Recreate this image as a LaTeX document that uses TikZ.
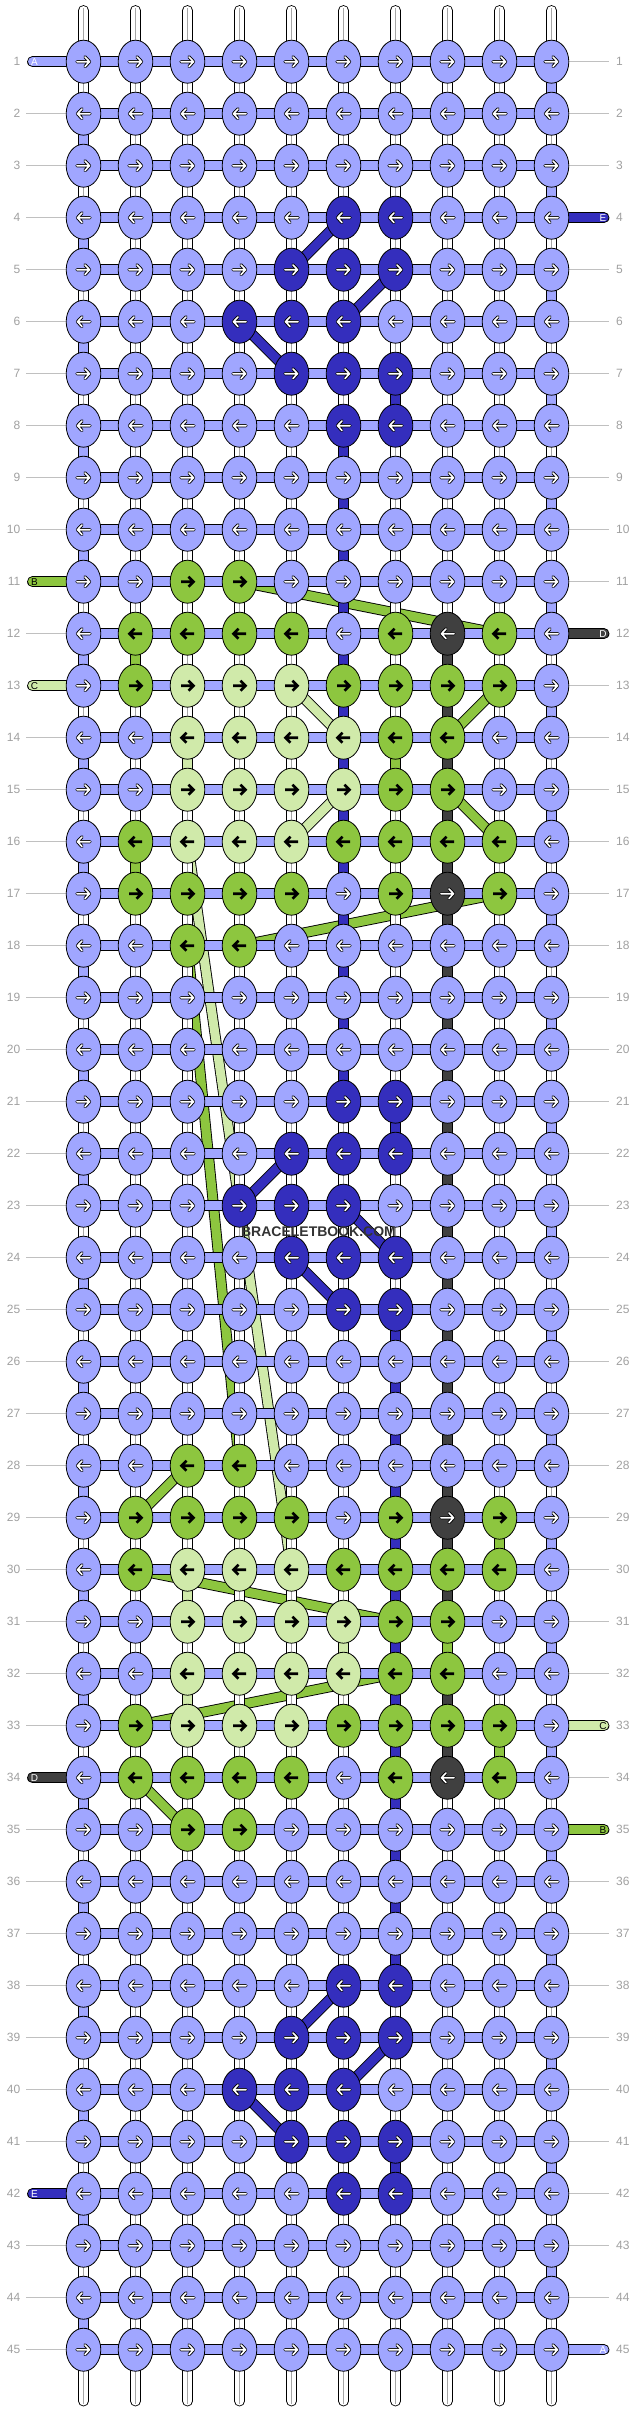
\documentclass[tikz,border=0pt]{standalone}
\usepackage{fontspec}
\setmainfont{Liberation Sans}
\usetikzlibrary{shapes.geometric}

\definecolor{thrA}{RGB}{160,166,255}
\definecolor{thrB}{RGB}{141,198,63}
\definecolor{thrC}{RGB}{208,234,170}
\definecolor{thrD}{RGB}{64,64,64}
\definecolor{thrE}{RGB}{52,46,189}
\definecolor{rowgray}{RGB}{160,160,160}
\definecolor{tickgray}{RGB}{192,192,192}

\pgfdeclarelayer{floats}
\pgfdeclarelayer{strands}
\pgfsetlayers{floats,strands,main}

\def\tB{thrB}
\def\tC{thrC}

\tikzset{
  knot/.style={ellipse,draw,line width=0.8pt,minimum width=34.6pt,minimum height=43pt,inner sep=0pt},
  seg/.style={draw=black,line width=0.9pt,double=#1,double distance=9pt},
  mid/.style={draw=black!35,line width=0.6pt},
  tick/.style={draw=tickgray,line width=0.8pt},
  rowno/.style={text=rowgray,font=\fontsize{12}{12}\selectfont,inner sep=0pt},
  tag/.style={font=\fontsize{10}{10}\selectfont,inner sep=0pt},
  arrw/.pic={
    \draw[line width=3.4pt,line cap=round,line join=round,xscale=#1] (-6.5,0) -- (6,0) (1.5,-4.8) -- (6,0) -- (1.5,4.8);
    \draw[white,line width=1.6pt,line cap=round,line join=round,xscale=#1] (-6.5,0) -- (6,0) (1.5,-4.8) -- (6,0) -- (1.5,4.8);
  },
  arrb/.pic={
    \draw[line width=2.6pt,xscale=#1] (-6.5,0) -- (5.5,0) (1,-5) -- (6,0) -- (1,5);
  }
}

\begin{document}
\begin{tikzpicture}[x=1pt,y=-1pt]
\useasboundingbox (0,0) rectangle (636,2412);

% knot colours
\foreach \R in {4,21,38}{
  \foreach \o/\c in {0/6,0/7,1/5,1/6,1/7,2/4,2/5,2/6,3/5,3/6,3/7,4/6,4/7}{
    \pgfmathtruncatemacro\rr{\R+\o}
    \expandafter\xdef\csname kc-\rr-\c\endcsname{thrE}
  }
}
\foreach \R in {11,28}{
  \foreach \o/\c/\f in {0/3/thrB,0/4/thrB,
      1/2/thrB,1/3/thrB,1/4/thrB,1/5/thrB,1/7/thrB,1/8/thrD,1/9/thrB,
      2/2/thrB,2/3/thrC,2/4/thrC,2/5/thrC,2/6/thrB,2/7/thrB,2/8/thrB,2/9/thrB,
      3/3/thrC,3/4/thrC,3/5/thrC,3/6/thrC,3/7/thrB,3/8/thrB,
      4/3/thrC,4/4/thrC,4/5/thrC,4/6/thrC,4/7/thrB,4/8/thrB,
      5/2/thrB,5/3/thrC,5/4/thrC,5/5/thrC,5/6/thrB,5/7/thrB,5/8/thrB,5/9/thrB,
      6/2/thrB,6/3/thrB,6/4/thrB,6/5/thrB,6/7/thrB,6/8/thrD,6/9/thrB,
      7/3/thrB,7/4/thrB}{
    \pgfmathtruncatemacro\rr{\R+\o}
    \expandafter\xdef\csname kc-\rr-\c\endcsname{\f}
  }
}

% vertical strand colours
\foreach \r in {1,3,...,43}{\expandafter\xdef\csname vs-\r-10\endcsname{thrA}}
\foreach \r in {2,4,...,44}{\expandafter\xdef\csname vs-\r-1\endcsname{thrA}}
\foreach \r in {8,...,20}{\expandafter\xdef\csname vs-\r-6\endcsname{thrE}}
\foreach \r in {25,...,37}{\expandafter\xdef\csname vs-\r-7\endcsname{thrE}}
\foreach \r in {12,...,30}{\expandafter\xdef\csname vs-\r-8\endcsname{thrD}}
\foreach \r/\c/\f in {32/8/thrD,33/8/thrD,7/7/thrE,21/7/thrE,41/7/thrE,
    12/2/thrB,16/2/thrB,14/7/thrB,29/9/thrB,33/9/thrB,31/8/thrB,
    14/3/thrC,30/3/thrC,32/3/thrC,31/6/thrC}{
  \expandafter\xdef\csname vs-\r-\c\endcsname{\f}
}

\foreach \r in {1,...,45}{
  \foreach \c in {1,...,10}{
    \ifcsname kc-\r-\c\endcsname \edef\kf{\csname kc-\r-\c\endcsname}\else \def\kf{thrA}\fi
    \node[knot,fill=\kf] (k-\r-\c) at ({83.5+52*(\c-1)},{61.7+52*(\r-1)}) {};
    \pgfmathtruncatemacro\dir{1-2*mod(\r+1,2)}
    \ifx\kf\tB \pic at (k-\r-\c) {arrb=\dir};
    \else\ifx\kf\tC \pic at (k-\r-\c) {arrb=\dir};
    \else \pic at (k-\r-\c) {arrw=\dir};
    \fi\fi
  }
}

\foreach \r/\f/\ltr/\tc in {1/thrA/A/white,11/thrB/B/black,13/thrC/C/black,34/thrD/D/white,42/thrE/E/white}{
  \coordinate (sl-\r) at (32.5,{61.7+52*(\r-1)});
  \begin{pgfonlayer}{strands}
    \draw[seg=\f,line cap=round] (sl-\r) -- (k-\r-1.center);
  \end{pgfonlayer}
  \node[tag,text=\tc] (tl-\r) at (34.5,{61.7+52*(\r-1)}) {\ltr};
  \expandafter\xdef\csname nl-\r\endcsname{1}
}
\foreach \r/\f/\ltr/\tc in {4/thrE/E/white,12/thrD/D/white,33/thrC/C/black,35/thrB/B/black,45/thrA/A/white}{
  \coordinate (sr-\r) at (604,{61.7+52*(\r-1)});
  \begin{pgfonlayer}{strands}
    \draw[seg=\f,line cap=round] (k-\r-10.center) -- (sr-\r);
  \end{pgfonlayer}
  \node[tag,text=\tc] (tr-\r) at (603,{61.7+52*(\r-1)}) {\ltr};
  \expandafter\xdef\csname nr-\r\endcsname{1}
}

\foreach \r in {1,...,45}{
  \node[rowno,anchor=east] (ll-\r) at (20.5,{61.7+52*(\r-1)}) {\r};
  \node[rowno,anchor=west] (lr-\r) at (616,{61.7+52*(\r-1)}) {\r};
  \begin{pgfonlayer}{strands}
    \ifcsname nl-\r\endcsname\else \draw[tick,shorten <=5.5pt] (ll-\r.east) -- (k-\r-1.west);\fi
    \ifcsname nr-\r\endcsname\else \draw[tick,shorten >=7pt] (k-\r-10.east) -- (lr-\r.west);\fi
  \end{pgfonlayer}
}

\begin{pgfonlayer}{strands}
\foreach \c in {1,...,10}{
  \coordinate (tt-\c) at ({83.5+52*(\c-1)},10.5);
  \coordinate (tb-\c) at ({83.5+52*(\c-1)},2401);
  \draw[seg=white,line cap=round] (tt-\c) -- (k-1-\c.center);
  \draw[mid,shorten <=-2.5pt] (tt-\c) -- (k-1-\c.center);
  \draw[seg=white,line cap=round] (k-45-\c.center) -- (tb-\c);
  \draw[mid,shorten >=-2.5pt] (k-45-\c.center) -- (tb-\c);
}
\foreach \r in {1,...,45}{
  \foreach \c [evaluate=\c as \cn using int(\c+1)] in {1,...,9}{
    \draw[seg=thrA] (k-\r-\c.center) -- (k-\r-\cn.center);
  }
}
\foreach \r [evaluate=\r as \rn using int(\r+1)] in {1,...,44}{
  \foreach \c in {1,...,10}{
    \ifcsname vs-\r-\c\endcsname
      \edef\vf{\csname vs-\r-\c\endcsname}
      \draw[seg=\vf] (k-\r-\c.center) -- (k-\rn-\c.center);
    \else
      \draw[seg=white] (k-\r-\c.center) -- (k-\rn-\c.center);
      \draw[mid] (k-\r-\c.center) -- (k-\rn-\c.center);
    \fi
  }
}
\end{pgfonlayer}

\begin{pgfonlayer}{floats}
\foreach \a/\b/\f in {4-6/5-5/thrE,5-7/6-6/thrE,6-4/7-5/thrE,
    22-5/23-4/thrE,23-6/24-7/thrE,24-5/25-6/thrE,
    38-6/39-5/thrE,39-7/40-6/thrE,40-4/41-5/thrE,
    11-4/12-9/thrB,13-9/14-8/thrB,15-8/16-9/thrB,17-9/18-4/thrB,18-3/28-4/thrB,
    28-3/29-2/thrB,30-2/31-7/thrB,32-7/33-2/thrB,34-2/35-3/thrB,
    13-5/14-6/thrC,15-6/16-5/thrC,16-3/30-5/thrC}{
  \draw[seg=\f] (k-\a.center) -- (k-\b.center);
}
\end{pgfonlayer}

\node[font=\bfseries\fontsize{14}{14}\selectfont,text=black!80,inner sep=0pt] (wm) at (318.5,1232) {BRACELETBOOK.COM};
\end{tikzpicture}
\end{document}
